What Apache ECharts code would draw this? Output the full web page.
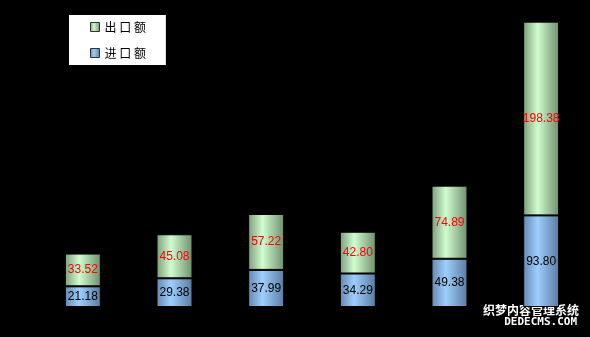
<!DOCTYPE html>
<html><head><meta charset="utf-8">
<script src="https://cdn.jsdelivr.net/npm/echarts@6/dist/echarts.min.js"></script>
<style>html,body{margin:0;padding:0;background:#000;}#c{width:590px;height:337px;}</style>
</head><body><div id="c"></div>
<script>
var categories = ['1', '2', '3', '4', '5', '6'];
var importValues = [21.18, 29.38, 37.99, 34.29, 49.38, 93.80];
var exportValues = [33.52, 45.08, 57.22, 42.80, 74.89, 198.38];
var seriesNames = ['出口额', '进口额'];

function grad(edgeL, mid, edgeR) {
  return new echarts.graphic.LinearGradient(0, 0, 1, 0, [
    {offset: 0, color: edgeL}, {offset: 0.4, color: mid}, {offset: 1, color: edgeR}
  ]);
}
var greenFill = grad('#7c9c7a', '#d0fcd0', '#6e8e6c');
var blueFill = grad('#6686ac', '#9ccfff', '#5a7aa0');

var chart = echarts.init(document.getElementById('c'));
chart.setOption({
  backgroundColor: '#000',
  animation: false,
  grid: {left: 37, right: 3, top: 14, bottom: 30},
  legend: {
    orient: 'vertical', left: 69, top: 15,
    backgroundColor: '#fff', borderWidth: 0,
    padding: [6, 20, 6, 21],
    itemWidth: 9, itemHeight: 9, itemGap: 14,
    data: [seriesNames[0], seriesNames[1]],
    formatter: function (n) { return n.split('').join(' '); },
    textStyle: {color: '#000', fontSize: 12, fontFamily: 'Noto Sans CJK SC'},
    itemStyle: {borderColor: '#333', borderWidth: 1},
    icon: 'rect'
  },
  xAxis: {type: 'category', data: categories, show: false},
  yAxis: {type: 'value', min: 0, max: 300, show: false},
  series: [
    {
      name: seriesNames[1], type: 'bar', stack: 't', barWidth: 36,
      data: importValues,
      itemStyle: {color: blueFill, borderColor: '#000', borderWidth: 1},
      label: {show: true, position: 'inside', color: '#000', fontSize: 12,
        fontFamily: 'Liberation Sans', formatter: function (p) { return p.value.toFixed(2); }}
    },
    {
      name: seriesNames[0], type: 'bar', stack: 't', barWidth: 36,
      data: exportValues,
      itemStyle: {color: greenFill, borderColor: '#000', borderWidth: 1},
      label: {show: true, position: 'inside', color: '#ff0000', fontSize: 12,
        fontFamily: 'Liberation Sans', formatter: function (p) { return p.value.toFixed(2); }}
    }
  ],
  graphic: [
    {type: 'text', right: 10, bottom: 20, style: {text: '织梦内容管理系统', fill: '#fff',
      stroke: '#000', lineWidth: 2, font: 'bold 12px "Noto Sans CJK SC"'}},
    {type: 'text', right: 12, bottom: 8, style: {text: 'DEDECMS.COM', fill: '#fff',
      stroke: '#000', lineWidth: 2, font: 'bold 11px "DejaVu Sans Mono"'}}
  ]
});
</script></body></html>
